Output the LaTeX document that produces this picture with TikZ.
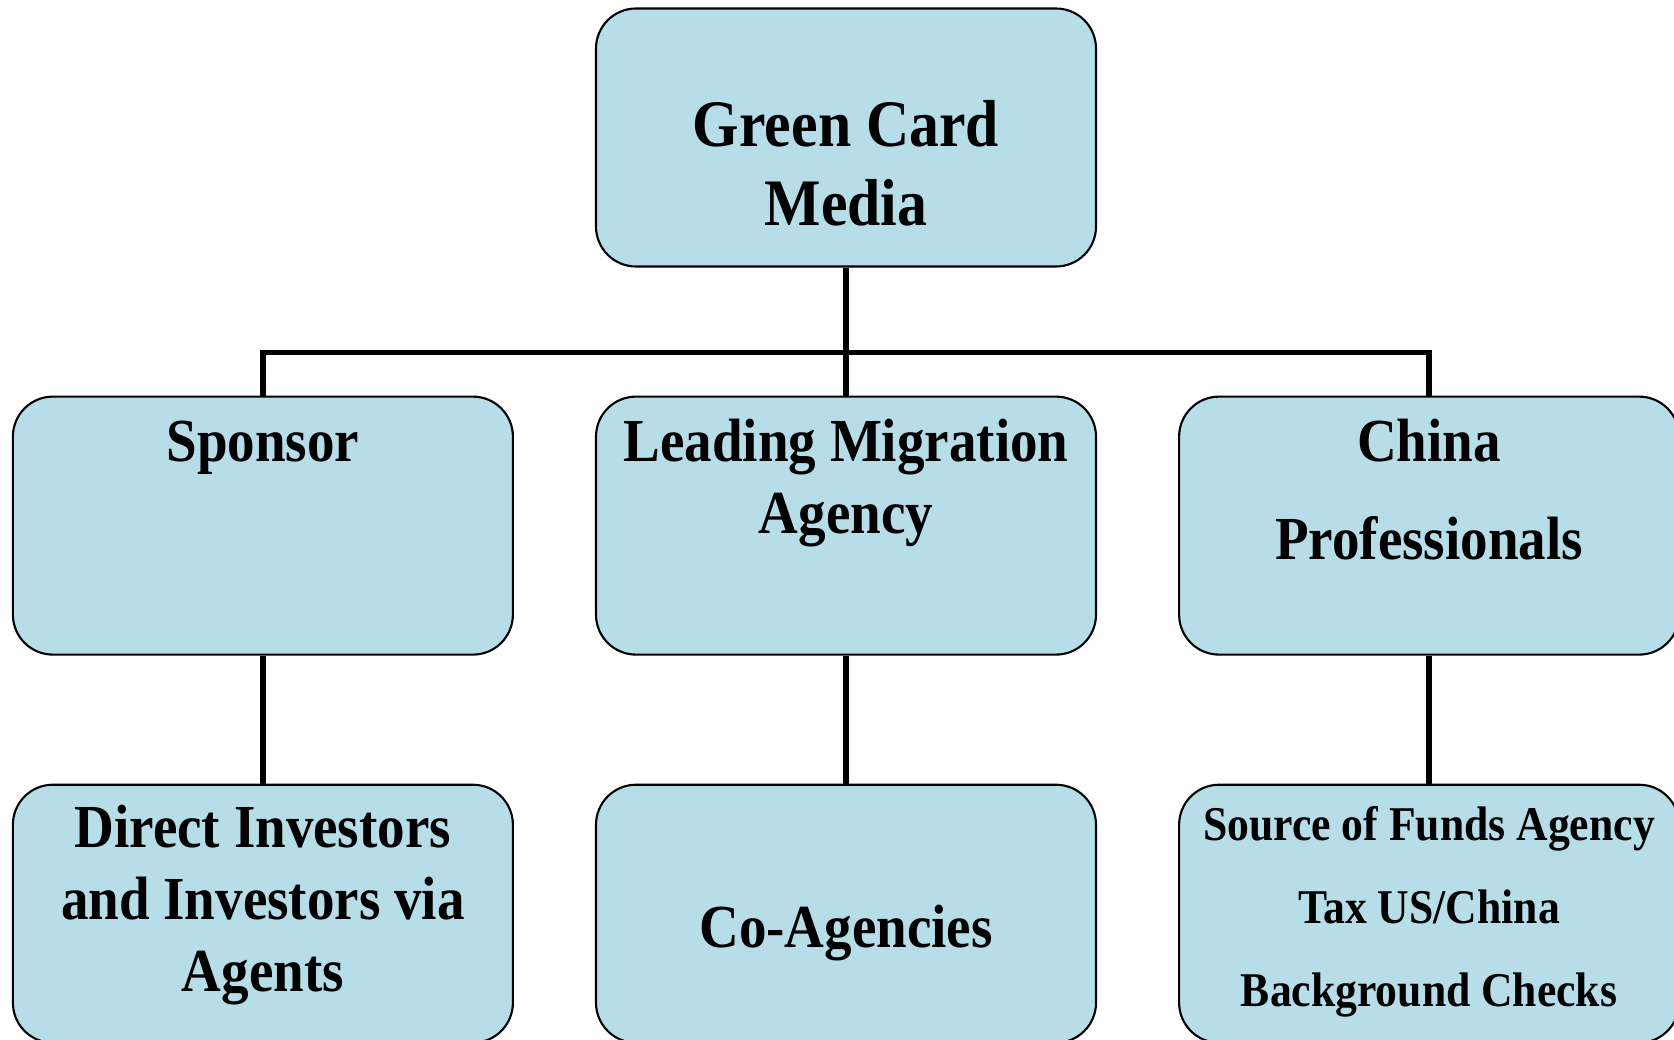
\documentclass[tikz,border=0pt]{standalone}
\usepackage{fontspec}
\setmainfont{Liberation Serif}[FakeStretch=0.9]
\usepackage{xcolor}
\usetikzlibrary{positioning}
\definecolor{boxfill}{RGB}{183,222,232}

\tikzset{
  unit/.style={draw, line width=0.6pt, fill=boxfill, rounded corners=0.4cm,
    minimum width=5cm, minimum height=2.58cm, inner sep=0pt},
  txt/.style={align=center, anchor=base, font=\bfseries\fontsize{17.4}{20.5}\selectfont},
  link/.style={line width=1.6pt}
}

\begin{document}
\begin{tikzpicture}[node distance=1.28cm and 0.81cm]
\useasboundingbox[fill=white] (0,0) rectangle (16.74,-10.39);
% boxes
\node[unit] (gcm) at (8.46,-1.375) {};
\node[unit, below=of gcm] (lma) {};
\node[unit, left=of lma] (sponsor) {};
\node[unit, right=of lma] (china) {};
\node[unit, below=of sponsor] (investors) {};
\node[unit, below=of lma] (coag) {};
\node[unit, below=of china] (checks) {};
% connectors
\coordinate[below=0.85cm of gcm.south] (bus);
\draw[link] (gcm.south) -- (lma.north);
\draw[link] (sponsor.north) |- (bus) -| (china.north);
\foreach \a/\b in {sponsor/investors,lma/coag,china/checks}
{\draw[link] (\a.south) -- (\b.north);}
% labels (base = last line)
\node[txt, font=\bfseries\fontsize{18.9}{22.5}\selectfont] (gcmtext)
  at ([yshift=-2.185cm]gcm.north) {Green Card\\Media};
\node[txt] (sponsortext) at ([yshift=-0.66cm]sponsor.north) {Sponsor};
\node[txt] (lmatext) at ([yshift=-1.38cm]lma.north) {Leading Migration\\Agency};
\node[txt] (chinatext) at ([yshift=-1.64cm]china.north) {China\\[7.4pt]Professionals};
\node[txt] (investorstext) at ([yshift=-2.08cm]investors.north)
  {Direct Investors\\and Investors via\\Agents};
\node[txt] (coagtext) at ([yshift=-1.64cm]coag.north) {Co-Agencies};
\node[txt, font=\bfseries\fontsize{13.8}{23.6}\selectfont] (checkstext)
  at ([yshift=-2.23cm]checks.north) {Source of Funds Agency\\Tax US/China\\Background Checks};
\end{tikzpicture}
\end{document}
